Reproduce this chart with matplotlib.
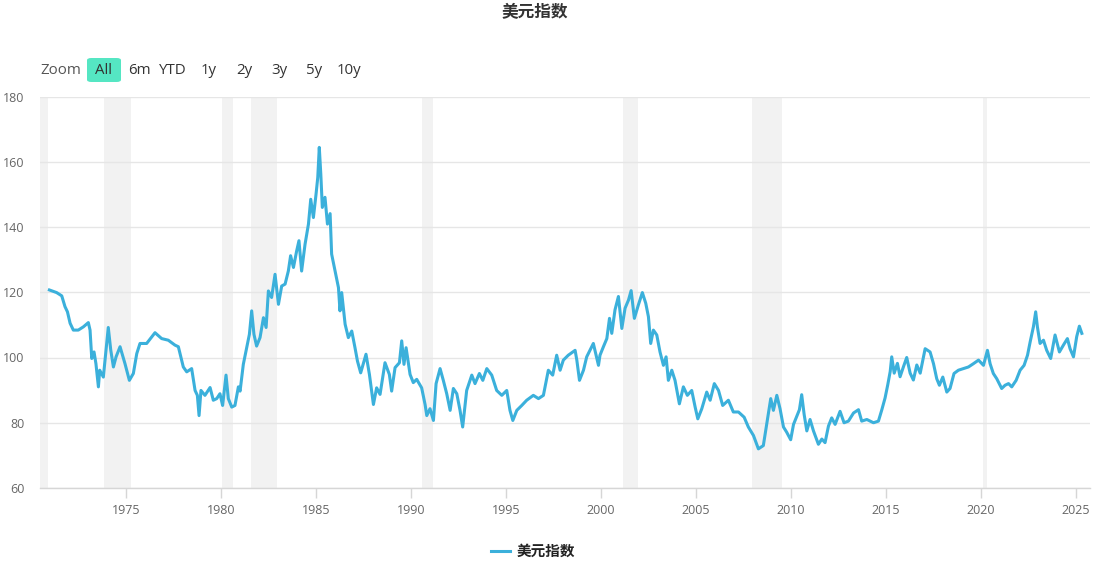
import matplotlib
matplotlib.use('Agg')
import matplotlib.pyplot as plt
from matplotlib.patches import FancyBboxPatch

plt.rcParams['font.family'] = ['Open Sans', 'Noto Sans CJK SC', 'DejaVu Sans']

TITLE = "美元指数"
SERIES_NAME = "美元指数"

# values (decimal year, index level)
years = [
    1970.95, 1971.33, 1971.6, 1971.77, 1971.9, 1972.04, 1972.21, 1972.47, 1972.74, 1973.0,
    1973.09, 1973.18, 1973.3, 1973.4, 1973.53, 1973.6, 1973.79, 1973.93, 1974.05, 1974.18,
    1974.32, 1974.46, 1974.67, 1974.93, 1975.16, 1975.37, 1975.55, 1975.72, 1976.07, 1976.51,
    1976.86, 1977.21, 1977.56, 1977.74, 1978.0, 1978.18, 1978.44, 1978.62, 1978.74, 1978.83,
    1978.93, 1979.14, 1979.41, 1979.58, 1979.76, 1979.93, 1980.07, 1980.25, 1980.37, 1980.55,
    1980.72, 1980.9,
    1980.99, 1981.16, 1981.34, 1981.48, 1981.6, 1981.72, 1981.86, 1982.04, 1982.22, 1982.36,
    1982.48, 1982.65, 1982.83, 1983.01, 1983.18, 1983.36, 1983.53, 1983.65, 1983.8, 1983.97,
    1984.09, 1984.23, 1984.41, 1984.59, 1984.71, 1984.85, 1984.99, 1985.08, 1985.16, 1985.24,
    1985.32, 1985.46, 1985.59, 1985.73, 1985.81, 1985.99, 1986.17, 1986.25, 1986.34, 1986.52,
    1986.69, 1986.87, 1987.04, 1987.17, 1987.34, 1987.62, 1987.8, 1988.01, 1988.18, 1988.36,
    1988.62, 1988.85, 1988.97, 1989.15, 1989.38, 1989.5, 1989.62, 1989.73, 1989.94, 1990.11,
    1990.29, 1990.55, 1990.73,
    1990.82, 1990.99, 1991.17, 1991.31, 1991.52, 1991.69, 1991.87, 1992.05, 1992.22, 1992.4,
    1992.57, 1992.71, 1992.92, 1993.19, 1993.36, 1993.59, 1993.77, 1993.98, 1994.24, 1994.5,
    1994.77, 1995.03, 1995.2, 1995.35, 1995.56, 1995.82, 1996.08, 1996.43, 1996.7, 1996.96,
    1997.22, 1997.45, 1997.66, 1997.84, 1998.01, 1998.27, 1998.63, 1998.72, 1998.86, 1999.07,
    1999.24, 1999.59, 1999.86,
    1999.94, 2000.12, 2000.3, 2000.44, 2000.56, 2000.73, 2000.91, 2001.09, 2001.26, 2001.44,
    2001.58, 2001.75, 2001.96, 2002.17, 2002.35, 2002.49, 2002.61, 2002.75, 2002.93, 2003.1,
    2003.28, 2003.42, 2003.54, 2003.72, 2003.89, 2004.12, 2004.33, 2004.54, 2004.77, 2004.95,
    2005.09, 2005.3, 2005.56, 2005.74, 2005.96, 2006.18, 2006.4, 2006.7, 2006.96, 2007.23,
    2007.53, 2007.75, 2008.02, 2008.28, 2008.54, 2008.72, 2008.93, 2009.07, 2009.25, 2009.42,
    2009.6, 2009.77, 2009.98,
    2010.13, 2010.3, 2010.44, 2010.56, 2010.69, 2010.83, 2011.0, 2011.18, 2011.44, 2011.62,
    2011.79, 2011.97, 2012.14, 2012.32, 2012.58, 2012.79, 2013.02, 2013.29, 2013.55, 2013.72,
    2013.99, 2014.34, 2014.6, 2014.78, 2014.95, 2015.09, 2015.22, 2015.3, 2015.43, 2015.6,
    2015.74, 2015.92, 2016.09, 2016.27, 2016.44, 2016.62, 2016.8, 2017.06,
    2017.32, 2017.5, 2017.67, 2017.81, 2017.99, 2018.2, 2018.37, 2018.58, 2018.81, 2019.08,
    2019.34, 2019.6, 2019.87, 2020.13, 2020.34, 2020.48, 2020.65, 2020.83, 2021.09, 2021.27,
    2021.45, 2021.62, 2021.85, 2022.06, 2022.27, 2022.45, 2022.59, 2022.76, 2022.88, 2022.97,
    2023.11, 2023.29, 2023.46, 2023.67, 2023.9, 2024.13, 2024.34, 2024.55, 2024.69, 2024.87,
    2025.04, 2025.18, 2025.31,
]

dxy = [
    120.7, 119.9, 118.9, 115.6, 114.0, 110.5, 108.4, 108.4, 109.4, 110.7,
    108.4, 99.7, 101.7, 98.1, 91.0, 96.1, 94.0, 102.3, 109.2, 102.3,
    97.1, 100.2, 103.3, 98.1, 93.0, 95.1, 101.2, 104.3, 104.3, 107.6,
    105.8, 105.3, 103.8, 103.3, 97.1, 95.6, 96.6, 89.9, 88.4, 82.2,
    89.9, 88.4, 90.8, 86.9, 87.4, 88.9, 85.3, 94.6, 87.4, 84.8,
    85.3, 91.0,
    89.7, 97.9, 103.0, 107.1, 114.3, 107.1, 103.5, 106.1, 112.2, 109.2,
    120.4, 118.4, 125.5, 116.3, 121.9, 122.5, 126.5, 131.2, 127.6, 132.7,
    135.8, 126.5, 134.7, 140.9, 148.5, 142.9, 150.1, 155.2, 164.4, 156.2,
    146.0, 149.1, 140.9, 144.1, 131.7, 126.5, 121.4, 114.3, 119.9, 110.2,
    106.1, 108.1, 103.0, 98.9, 95.3, 101.0, 94.8, 85.6, 90.7, 88.7,
    98.4, 94.8, 89.7, 96.9, 98.4, 105.1, 97.9, 103.0, 94.8, 92.3,
    93.3, 90.7, 85.6,
    82.2, 84.3, 80.7, 92.0, 96.6, 93.0, 88.9, 83.8, 90.5, 88.9,
    83.8, 78.7, 89.9, 94.6, 92.0, 95.1, 93.0, 96.6, 94.6, 89.9,
    88.4, 89.9, 83.8, 80.7, 83.8, 85.3, 86.9, 88.4, 87.4, 88.4,
    96.1, 94.6, 100.7, 96.1, 99.2, 100.7, 102.2, 99.2, 93.0, 96.1,
    100.2, 104.3, 97.6,
    100.7, 103.3, 105.8, 112.0, 107.4, 114.6, 118.7, 108.9, 115.1, 117.6,
    120.5, 112.0, 116.1, 119.9, 116.6, 112.5, 104.3, 108.4, 106.9, 101.7,
    97.6, 100.2, 93.0, 96.1, 93.0, 85.8, 91.0, 88.4, 89.9, 84.8,
    81.2, 84.3, 89.4, 86.9, 92.0, 89.9, 85.3, 86.9, 83.3, 83.3,
    81.7, 78.7, 76.1, 72.0, 73.0, 79.7, 87.4, 83.8, 88.4, 84.3,
    78.7, 77.1, 74.8,
    79.5, 82.0, 84.0, 88.6, 82.5, 77.5, 81.0, 77.5, 73.4, 75.0,
    73.9, 79.0, 81.5, 79.5, 83.5, 80.0, 80.5, 83.0, 84.0, 80.5,
    81.0, 80.0, 80.5, 84.0, 87.6, 91.6, 95.7, 100.2, 95.2, 98.2,
    94.1, 97.2, 100.0, 95.2, 93.1, 97.7, 95.2, 102.7,
    101.7, 98.1, 93.5, 91.5, 94.0, 89.4, 90.5, 95.1, 96.1, 96.6,
    97.1, 98.1, 99.2, 97.6, 102.2, 98.1, 95.1, 93.5, 90.5, 91.5,
    92.0, 91.0, 93.0, 96.1, 97.6, 100.7, 104.8, 109.4, 114.0, 109.4,
    104.3, 105.3, 102.2, 99.7, 106.9, 101.7, 103.8, 105.8, 102.7, 100.2,
    106.4, 109.6, 107.4,
]

# NBER recession periods (start, end) shown as grey bands
recession_start = [1969.92, 1973.85, 1980.06, 1981.55, 1990.58, 2001.17, 2007.92, 2020.08]
recession_end = [1970.88, 1975.23, 1980.61, 1982.92, 1991.17, 2001.92, 2009.5, 2020.33]

x_ticks = [1975, 1980, 1985, 1990, 1995, 2000, 2005, 2010, 2015, 2020, 2025]
y_ticks = [60, 80, 100, 120, 140, 160, 180]

range_buttons = ["All", "6m", "YTD", "1y", "2y", "3y", "5y", "10y"]
button_x = [103.5, 139, 173, 209, 244, 279, 314, 349]   # pixel centres

LINE_COLOR = '#3bb0db'
W, H = 1100, 562


def plot_chart():
    fig = plt.figure(figsize=(W / 100, H / 100), dpi=100)
    ax = fig.add_axes([40 / W, 1 - 488 / H, 1050 / W, (488 - 96.5) / H])

    for s, e in zip(recession_start, recession_end):
        ax.axvspan(s, e, color='#f2f2f2', lw=0, zorder=0)

    line, = ax.plot(years, dxy, color=LINE_COLOR, lw=2.2, zorder=3, label=SERIES_NAME)

    ax.set_xlim(1970.455, 2025.74)
    ax.set_ylim(60, 180)
    ax.set_xticks(x_ticks)
    ax.set_xticklabels([str(t) for t in x_ticks])
    ax.set_yticks(y_ticks)

    ax.grid(axis='y', color='#e6e6e6', lw=1, zorder=1)
    ax.set_axisbelow(True)

    for side in ['top', 'right', 'left']:
        ax.spines[side].set_visible(False)
    ax.spines['bottom'].set_color('#d6d6d6')
    ax.spines['bottom'].set_linewidth(1)

    ax.tick_params(axis='x', length=7.2, width=1, color='#d6d6d6', pad=4,
                   labelsize=9, labelcolor='#666666')
    ax.tick_params(axis='y', length=0, pad=11, labelsize=9, labelcolor='#666666')

    # title
    fig.text(535 / W, 1 - 12 / H, TITLE, ha='center', va='center',
             fontsize=12, fontweight='bold', color='#333333')

    # range selector (static)
    fig.text(40 / W, 1 - 70 / H, "Zoom", ha='left', va='center', fontsize=10.8, color='#555555')
    btn = FancyBboxPatch((87 / W, 1 - 82 / H), 34 / W, 24 / H,
                         boxstyle='round,pad=0,rounding_size=0.004',
                         transform=fig.transFigure, fc='#55e6c3', ec='none')
    fig.patches.append(btn)
    for label, bx in zip(range_buttons, button_x):
        fig.text(bx / W, 1 - 70 / H, label, ha='center', va='center',
                 fontsize=10.8, color='#333333')

    leg = fig.legend(handles=[line], loc='center', bbox_to_anchor=(533 / W, 1 - 551 / H),
                     frameon=False, handlelength=1.3, handletextpad=0.4,
                     prop={'family': ['Noto Sans CJK SC', 'DejaVu Sans'], 'weight': 'bold', 'size': 10.5})
    for t in leg.get_texts():
        t.set_color('#222222')

    fig.savefig('out.png', dpi=100)


if __name__ == "__main__":
    plot_chart()
